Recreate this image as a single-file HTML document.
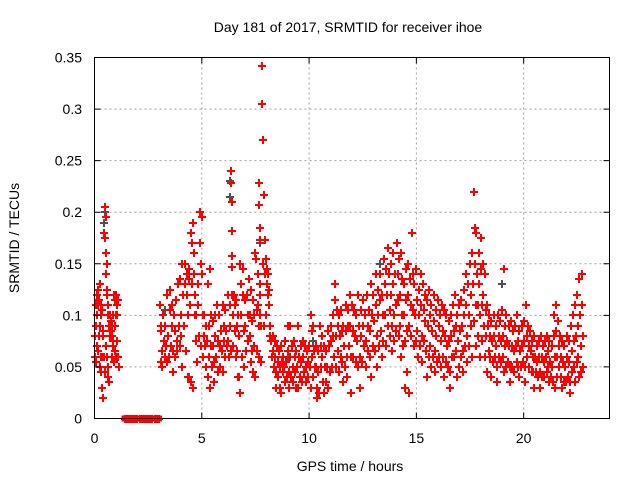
<!DOCTYPE html>
<html><head><meta charset="utf-8"><style>
body{margin:0;background:#fff;}
svg{display:block;font-family:"Liberation Sans",sans-serif;}
</style></head><body>
<svg id="chart" width="640" height="480" viewBox="0 0 640 480" xmlns="http://www.w3.org/2000/svg">
<rect width="640" height="480" fill="#fff"/>
<g id="grid"></g>
<g id="grey" shape-rendering="crispEdges"></g>
<g id="red" shape-rendering="crispEdges"></g>
<rect x="94.5" y="57.5" width="515" height="361" fill="none" stroke="#000" stroke-width="1"/>
<g id="axes"></g>
<text x="348" y="32" text-anchor="middle" font-size="14" fill="#000">Day 181 of 2017, SRMTID for receiver ihoe</text>
<text x="350" y="471" text-anchor="middle" font-size="14" fill="#000">GPS time / hours</text>
<text transform="translate(19,238) rotate(-90)" text-anchor="middle" font-size="14" fill="#000">SRMTID / TECUs</text>
</svg>
<script>
const xTicks=[0,5,10,15,20];
const yTicks=[0,0.05,0.1,0.15,0.2,0.25,0.3,0.35];
const yTickLabels=["0","0.05","0.1","0.15","0.2","0.25","0.3","0.35"];
const redTimes=[0,.05,.1,.15,.2,.25,.3,.35,.4,.45,.5,.55,.6,.65,.7,.75,.8,.85,.9,.95,1.0,1.05,1.1,
1.4,1.5,1.6,1.7,1.8,1.9,2.0,2.1,2.2,2.3,2.4,2.5,2.6,2.7,2.8,2.9,3.0,
3.05,3.1,3.2,3.3,3.4,3.5,3.6,3.7,3.8,3.9,4.0,4.1,4.2,4.3,4.4,4.5,4.6,4.7,4.8,4.9,
5.0,5.1,5.2,5.3,5.4,5.5,5.6,5.7,5.8,5.9,6.0,6.1,6.2,6.3,6.35,6.4,6.5,6.6,6.7,6.8,6.9,
7.0,7.1,7.2,7.3,7.4,7.5,7.6,7.65,7.7,7.8,7.9,8.0,8.1,8.2,8.3,8.4,8.5,8.6,8.7,8.8,8.9,
9.0,9.1,9.2,9.3,9.4,9.5,9.6,9.7,9.8,9.9,10.0,10.1,10.2,10.3,10.4,10.5,10.6,10.7,10.8,10.9,
11.0,11.1,11.2,11.3,11.4,11.5,11.6,11.7,11.8,11.9,12.0,12.1,12.2,12.3,12.4,12.5,12.6,12.7,12.8,12.9,
13.0,13.1,13.2,13.3,13.4,13.5,13.6,13.7,13.8,13.9,14.0,14.1,14.2,14.3,14.4,14.5,14.6,14.7,14.8,14.9,
15.0,15.1,15.2,15.3,15.4,15.5,15.6,15.7,15.8,15.9,16.0,16.1,16.2,16.3,16.4,16.5,16.6,16.7,16.8,16.9,
17.0,17.1,17.2,17.3,17.4,17.5,17.6,17.7,17.8,17.9,18.0,18.1,18.2,18.3,18.4,18.5,18.6,18.7,18.8,18.9,
19.0,19.1,19.2,19.3,19.4,19.5,19.6,19.7,19.8,19.9,20.0,20.1,20.2,20.3,20.4,20.5,20.6,20.7,20.8,20.9,
21.0,21.1,21.2,21.3,21.4,21.5,21.6,21.7,21.8,21.9,22.0,22.1,22.2,22.3,22.4,22.5,22.6,22.7];
const redValues=[[.08,.06,.055],[.09,.11,.07],[.12,.1,.065],[.125,.11,.08],[.115,.09,.05],[.13,.1,.06],[.11,.045,.03,.02],[.105,.08,.06],[.085,.06,.045],[.18,.175,.07],[.205,.195,.16,.15],[.14,.12,.06,.05],[.125,.1,.04,.035],[.11,.09,.08],[.1,.09,.085],[.095,.085,.06],[.09,.08,.07],[.1,.075,.055],[.12,.09,.065],[.115,.1,.06],[.12,.1,.075],[.11,.06],[.115,.05],
[0],[0],[0],[0],[0],[0],[0],[0],[0],[0],[0],[0],[0],[0],[0],[0],[0],
[.11,.09,.055],[.085,.065,.05],[.1,.075,.06],[.09,.07,.055],[.12,.08,.06],[.125,.105,.07],[.11,.09,.065,.045],[.1,.085,.06],[.115,.075,.065],[.13,.09,.07],[.135,.1,.08,.05],[.15,.12,.09],[.15,.13,.065],[.14,.12,.1,.04],[.145,.135,.11,.035],[.18,.17,.13,.03],[.19,.16,.14,.1],[.12,.1,.075,.055],[.13,.11,.08],[.2,.17,.15,.07],[.195,.14,.1,.06],
[.1,.08,.07,.05],[.09,.075,.04],[.13,.09,.06,.03],[.145,.1,.07,.05],[.095,.07,.055,.035],[.1,.08,.06],[.11,.075,.045],[.1,.07,.05],[.085,.065,.045],[.11,.09,.075,.06],[.105,.085,.07],[.12,.075,.06],[.11,.09,.065],[.24,.228,.21,.182,.12],[.158,.147,.1,.07],[.12,.11,.085,.06],[.115,.09,.065,.04],[.1,.08,.04,.025],[.15,.13,.1,.06],[.145,.12,.085,.05],[.115,.09,.065],
[.12,.1,.075],[.135,.1,.08,.055],[.125,.095,.065,.045],[.115,.1,.07,.04],[.16,.155,.105,.065],[.14,.11,.09,.06],[.228,.207,.185,.13,.1],[.173,.12,.09,.055],[.342,.305,.27,.15,.09],[.217,.173,.14,.1],[.155,.145,.13,.12],[.14,.125,.11,.08],[.09,.075,.06],[.08,.065,.05],[.075,.06,.045,.03],[.07,.055,.04],[.065,.05,.03,.025],[.07,.055,.045],[.06,.05,.035],[.075,.055,.04],[.09,.065,.045,.03],
[.09,.06,.04],[.07,.05,.035],[.075,.06,.045,.03],[.065,.05,.03],[.09,.06,.04],[.07,.055,.035],[.075,.06,.045],[.07,.05,.035],[.065,.055,.04],[.07,.05,.03],[.1,.085,.06,.04],[.09,.065,.05],[.07,.05,.03,.02],[.065,.045,.025],[.09,.07,.05],[.08,.06,.035,.025],[.07,.05,.035],[.065,.05,.03],[.085,.07,.045],[.09,.075,.05],
[.1,.08,.06],[.13,.115,.08,.05],[.105,.09,.065,.045],[.1,.08,.06],[.105,.085,.055,.035],[.09,.07,.05],[.11,.085,.06,.04],[.105,.09,.07],[.12,.09,.06,.025],[.11,.085,.06],[.105,.08,.055],[.1,.075,.05],[.12,.09,.06,.03],[.105,.08,.055],[.115,.09,.07],[.1,.075,.05],[.12,.09,.065],[.105,.085,.06,.04],[.13,.1,.07],[.12,.095,.065],
[.14,.11,.08,.05],[.125,.1,.07],[.14,.115,.085,.06],[.12,.1,.075],[.155,.13,.1,.07],[.145,.12,.09],[.165,.14,.105,.08],[.15,.12,.09,.065],[.16,.13,.1,.075],[.14,.11,.085],[.17,.14,.115,.08],[.155,.12,.09,.06],[.16,.135,.1,.07],[.13,.1,.075,.03],[.145,.115,.085,.045],[.15,.12,.09,.025],[.135,.11,.08],[.18,.14,.105,.07],[.13,.1,.075],[.145,.115,.085,.06],
[.125,.1,.07],[.14,.11,.08,.055],[.13,.105,.075],[.12,.095,.065,.04],[.115,.09,.06],[.125,.1,.07,.05],[.11,.085,.06],[.12,.095,.065,.045],[.105,.08,.055],[.115,.09,.06],[.1,.075,.05],[.11,.085,.06,.04],[.105,.08,.055],[.1,.07,.05],[.095,.075,.045,.03],[.1,.08,.06],[.11,.085,.06],[.12,.09,.065,.04],[.1,.075,.05],[.11,.085,.06],
[.115,.09,.065,.045],[.125,.1,.07],[.14,.11,.08,.055],[.13,.1,.07],[.15,.12,.09,.06],[.16,.13,.095],[.22,.185,.15,.11,.07],[.18,.14,.11,.08],[.16,.13,.1,.06],[.175,.145,.11,.075],[.15,.12,.09,.06],[.14,.105,.08,.045],[.11,.09,.065],[.1,.08,.06,.04],[.095,.075,.055],[.1,.08,.06],[.09,.07,.05,.035],[.1,.08,.06],[.095,.075,.055],[.105,.08,.06,.045],
[.145,.09,.07,.05],[.1,.075,.055],[.09,.07,.05,.035],[.095,.07,.05],[.085,.065,.045],[.09,.07,.055],[.1,.075,.05,.04],[.085,.065,.05],[.09,.07,.055],[.095,.075,.05,.035],[.11,.08,.06],[.09,.07,.05],[.085,.065,.045],[.075,.06,.045,.03],[.08,.06,.045],[.07,.055,.04],[.075,.06,.045,.03],[.08,.06,.04],[.07,.055,.04],[.075,.06,.045],
[.08,.065,.05,.035],[.075,.055,.04],[.07,.05,.035],[.1,.08,.06,.03],[.11,.085,.06,.04],[.095,.07,.05],[.08,.06,.04,.03],[.075,.055,.035],[.07,.05,.035],[.08,.06,.04],[.075,.055,.035,.025],[.09,.065,.045],[.1,.075,.05,.035],[.11,.08,.055],[.12,.09,.06,.04],[.135,.1,.07,.045],[.14,.11,.08,.05],[.09,.07,.05]];
const greyTimes=[0.45,0.5,3.3,4.4,6.3,6.3,7.7,9.0,10.2,13.3,14.5,17.6,19.0,21.3];
const greyValues=[.19,.2,.105,.04,.23,.215,.17,.06,.075,.15,.145,.16,.13,.07];

const X0=94.5,X1=609.5,Y0=418.5,Y1=57.5,XMAX=24,YMAX=0.35;
function sx(t){return X0+(t/XMAX)*(X1-X0);}
function sy(v){return Y0-(v/YMAX)*(Y0-Y1);}
const NS="http://www.w3.org/2000/svg";
function mk(tag,attrs,parent){const e=document.createElementNS(NS,tag);for(const k in attrs)e.setAttribute(k,attrs[k]);parent.appendChild(e);return e;}
const grid=document.getElementById('grid'),axes=document.getElementById('axes');
xTicks.forEach(t=>{
  const x=sx(t);
  if(t>0){const g=mk('line',{x1:x,x2:x,y1:Y1,y2:Y0,stroke:'#a0a0a0','stroke-dasharray':'2,3'},grid);
  
  }
  const tk=mk('path',{d:`M${x},${Y0}v-6M${x},${Y1}v6`,stroke:'#000'},axes);
  
  
  const lb=mk('text',{x:x,y:443,'text-anchor':'middle','font-size':'14'},axes);lb.textContent=String(t);
  
  
});
yTicks.forEach((v,i)=>{
  const y=sy(v);
  if(v>0&&v<YMAX){const g=mk('line',{x1:X0,x2:X1,y1:y,y2:y,stroke:'#a0a0a0','stroke-dasharray':'2,3'},grid);
  
  }
  const tk=mk('path',{d:`M${X0},${y}h6M${X1},${y}h-6`,stroke:'#000'},axes);
  
  
  const lb=mk('text',{x:82,y:y+5,'text-anchor':'end','font-size':'14'},axes);lb.textContent=yTickLabels[i];
  
  
});
function plus(t,v,col,parent){
  const x=Math.round(sx(t)),y=Math.round(sy(v));
  const p=mk('path',{d:`M${x-4},${y}h8M${x},${y-4}v8`,stroke:col,'stroke-width':'1.6',fill:'none'},parent);
  
  
}
const gG=document.getElementById('grey'),gR=document.getElementById('red');
greyTimes.forEach((t,i)=>plus(t,greyValues[i],'#505050',gG));
redTimes.forEach((t,i)=>{
  const vs=redValues[i];
  vs.forEach((v,j)=>{
    plus(t+j*0.1/vs.length,v,'#ff0000',gR);
  });
});
const zb=[];redTimes.forEach((t,i)=>{if(redValues[i].length===1&&redValues[i][0]===0)zb.push(t);});
if(zb.length){const r=mk('rect',{x:sx(Math.min(...zb))-3,y:sy(0)-3,width:sx(Math.max(...zb))-sx(Math.min(...zb))+6,height:6,fill:'#ff0000'},gR);

}
</script>
</body></html>
